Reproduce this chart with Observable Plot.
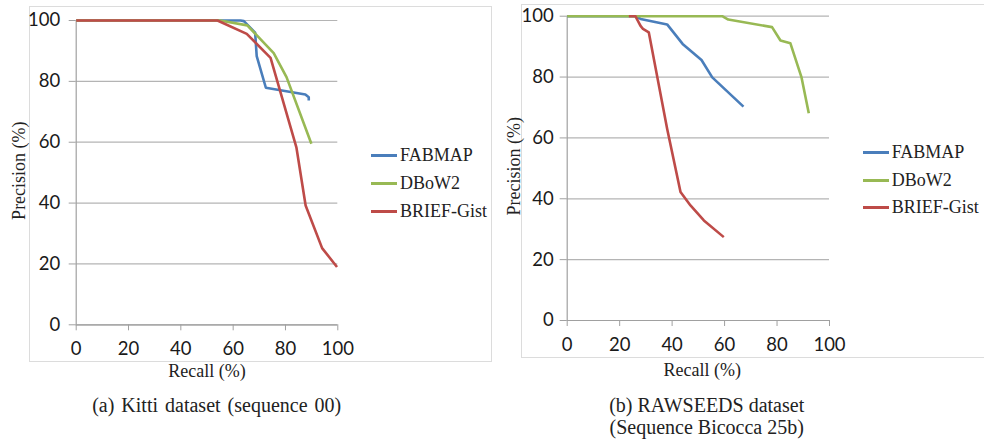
<!DOCTYPE html>
<html>
<head>
<meta charset="utf-8">
<script src="https://cdn.jsdelivr.net/npm/d3@7"></script>
<script src="https://cdn.jsdelivr.net/npm/@observablehq/plot@0.6"></script>
<style>
  html, body { margin: 0; padding: 0; background: #fff; }
  #page { position: relative; width: 984px; height: 441px; overflow: hidden; background: #fff; }
  .frame { position: absolute; border: 1px solid #dcdcdc; box-sizing: border-box; }
  .panel { position: absolute; top: 0; }
  .legend-row { position: absolute; font-family: "Liberation Serif", serif; font-size: 18px; line-height: 22px; color: #222; white-space: nowrap; }
  .swatch { display: inline-block; width: 26px; height: 3px; vertical-align: middle; margin-right: 3px; position: relative; top: -1px; }
  .caption { position: absolute; width: 400px; text-align: center; font-family: "Liberation Serif", serif; font-size: 20px; line-height: 22px; color: #222; }
</style>
</head>
<body>
<div id="page"></div>
<script>
// ---- data (recall %, precision %) ----
const seriesNames = ["FABMAP", "DBoW2", "BRIEF-Gist"];
const seriesColors = ["#4a7ebb", "#98b954", "#be4b48"];
const xTicks = [0, 20, 40, 60, 80, 100];
const yTicks = [0, 20, 40, 60, 80, 100];

const kittiFABMAP = [[0,100],[62.8,100],[64.1,99.8],[68.4,96],[69,88.3],[72.5,77.9],[87.6,75.7],[88.9,74.8],[88.9,73.7]];
const kittiDBoW2 = [[0,100],[55,100],[65.4,98.4],[75.5,89.3],[80.4,81.4],[89.9,59.5]];
const kittiBRIEF = [[0,100],[54,100],[65.2,95.6],[74.3,87.7],[84.2,58.2],[87.7,39.2],[94,25.2],[99.7,19]];

const rawFABMAP = [[0,100],[26,100],[28,99.1],[38.1,97.3],[44,90.9],[51.2,85.6],[55.3,79.9],[67.2,70.3]];
const rawDBoW2 = [[0,100],[59.1,100],[61.4,98.9],[78.1,96.4],[81.3,92],[85.1,91.1],[89.3,80],[92.1,68.1]];
const rawBRIEF = [[23.5,100],[26,100],[27.9,96.9],[28.9,95.8],[31.1,94.7],[38.1,63],[43.2,42.2],[47,37.8],[52.1,32.9],[59.7,27.4]];

const captionA = ["(a) Kitti dataset (sequence 00)"];
const captionB = ["(b) RAWSEEDS dataset", "(Sequence Bicocca 25b)"];

const page = document.getElementById("page");
const gridColor = "#b4b4b4";
const axisColor = "#a0a0a0";
const labelColor = "#1a1a1a";

function makePanel(series, m, yPad, xLabelDx, xLabelDy, yLabelDx) {
  const marks = [
    Plot.gridY(yTicks, {stroke: gridColor, strokeOpacity: 1, strokeWidth: 1.2}),
    Plot.ruleX([0], {stroke: axisColor, strokeWidth: 1.2}),
    Plot.ruleY([0], {stroke: axisColor, strokeWidth: 1.2}),
    Plot.axisY({ticks: yTicks, anchor: "left", tickSize: 7, tickPadding: yPad, stroke: axisColor, fill: labelColor, label: null, fontFamily: "Lato", fontSize: 18.5}),
    Plot.axisX({ticks: xTicks, anchor: "bottom", tickSize: 6, tickPadding: 11.5, stroke: axisColor, fill: labelColor, label: null, fontFamily: "Lato", fontSize: 18.5}),
    Plot.text(["Recall (%)"], {frameAnchor: "bottom", dx: xLabelDx, dy: xLabelDy, textAnchor: "middle", lineAnchor: "middle", fontFamily: "Liberation Serif", fontSize: 18, fill: "#222"}),
    Plot.text(["Precision (%)"], {frameAnchor: "left", dx: yLabelDx, dy: -2, rotate: -90, textAnchor: "middle", lineAnchor: "middle", fontFamily: "Liberation Serif", fontSize: 18, fill: "#222"})
  ];
  series.forEach((s, i) => {
    marks.push(Plot.line(s, {x: d => d[0], y: d => d[1], stroke: seriesColors[i], strokeWidth: 2.6, strokeLinejoin: "round", strokeLinecap: "butt"}));
  });
  return Plot.plot({
    width: 492, height: 385,
    marginLeft: m[0], marginRight: m[1], marginTop: m[2], marginBottom: m[3],
    x: {domain: [0, 100]},
    y: {domain: [0, 100]},
    style: {fontFamily: "Lato", fontSize: "18px", background: "transparent", overflow: "visible"},
    marks
  });
}

function addFrame(left, top, width, height) {
  const f = document.createElement("div");
  f.className = "frame";
  Object.assign(f.style, {left: left + "px", top: top + "px", width: width + "px", height: height + "px"});
  page.appendChild(f);
}

function addLegend(left, rows) {
  seriesNames.forEach((name, i) => {
    const r = document.createElement("div");
    r.className = "legend-row";
    r.style.left = left + "px";
    r.style.top = (rows[i] - 11) + "px";
    const sw = document.createElement("span");
    sw.className = "swatch";
    sw.style.background = seriesColors[i];
    r.appendChild(sw);
    r.appendChild(document.createTextNode(name));
    page.appendChild(r);
  });
}

function addCaption(center, top, lines, extra) {
  const c = document.createElement("div");
  c.className = "caption";
  c.style.left = (center - 200) + "px";
  c.style.top = top + "px";
  if (extra) Object.assign(c.style, extra);
  c.innerHTML = lines.map(l => l.replace(/&/g, "&amp;").replace(/</g, "&lt;")).join("<br>");
  page.appendChild(c);
}

addFrame(29, 6, 463, 356);
addFrame(521, 4, 480, 354);

const pA = makePanel([kittiFABMAP, kittiDBoW2, kittiBRIEF], [75.7, 154.7, 20, 60.7], 9, 0, 46.4, -57.4);
pA.classList.add("panel"); pA.style.left = "0px";
page.appendChild(pA);

const pB = makePanel([rawFABMAP, rawDBoW2, rawBRIEF], [74.7, 155, 15.7, 65], 6.5, 4, 49.3, -53.4);
pB.classList.add("panel"); pB.style.left = "492px";
page.appendChild(pB);

addLegend(371, [155, 183, 211]);
addLegend(862.7, [151.7, 180, 207]);

addCaption(216.7, 394, captionA, {wordSpacing: "2px"});
addCaption(706.7, 394, captionB);
</script>
</body>
</html>
